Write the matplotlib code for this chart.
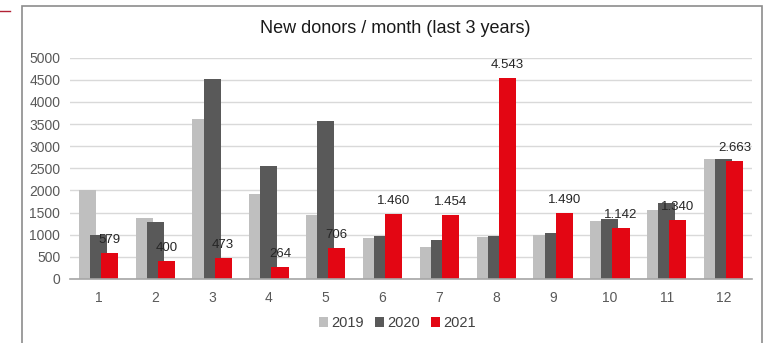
import matplotlib
matplotlib.use("Agg")
import matplotlib.pyplot as plt
import numpy as np
from matplotlib.patches import Rectangle
from matplotlib.lines import Line2D

months = ["1", "2", "3", "4", "5", "6", "7", "8", "9", "10", "11", "12"]
donors_2019 = [2000, 1370, 3620, 1920, 1440, 920, 730, 950, 1000, 1300, 1560, 2700]
donors_2020 = [1000, 1280, 4510, 2550, 3580, 980, 880, 970, 1050, 1350, 1720, 2700]
donors_2021 = [579, 400, 473, 264, 706, 1460, 1454, 4543, 1490, 1142, 1340, 2663]
series_names = ["2019", "2020", "2021"]
colors = ["#bfbfbf", "#595959", "#e30613"]

fig = plt.figure(figsize=(7.67, 3.43), dpi=100)
ax = fig.add_axes([0.0913, 0.1866, 0.8891, 0.6452])

# outer chart frame and accent mark
fig.patches.append(Rectangle((22 / 767, -0.05), (762 - 22) / 767, 1 - 6 / 343 + 0.05,
                             transform=fig.transFigure, fill=False,
                             edgecolor="#8c8c8c", linewidth=1.2))
fig.lines.append(Line2D([0, 10 / 767], [1 - 11 / 343] * 2, transform=fig.transFigure,
                        color="#b22234", linewidth=1.0))

x = np.arange(len(months))
width = 0.30
offset = 0.195
for i, (vals, col, name) in enumerate(zip([donors_2019, donors_2020, donors_2021],
                                           colors, series_names)):
    ax.bar(x + (i - 1) * offset, vals, width=width, color=col, label=name,
           zorder=2 + i, linewidth=0)

for xi, v in zip(x, donors_2021):
    txt = f"{v:,}".replace(",", ".")
    ax.text(xi + offset, v + 160, txt, ha="center", va="bottom", fontsize=9.5,
            color="#262626", family="Liberation Sans", zorder=10)

ax.set_xlim(-0.5, len(months) - 0.5)
ax.set_ylim(0, 5000)
ax.set_yticks(np.arange(0, 5001, 500))
ax.set_xticks(x)
ax.set_xticklabels(months)
ax.yaxis.grid(True, color="#d9d9d9", linewidth=1.0, zorder=0)
ax.set_axisbelow(True)
for s in ["top", "right", "left"]:
    ax.spines[s].set_visible(False)
ax.spines["bottom"].set_color("#a6a6a6")
ax.spines["bottom"].set_linewidth(1.2)
ax.spines["bottom"].set_zorder(20)
ax.tick_params(axis="both", length=0, labelsize=10, labelcolor="#595959", pad=7)
ax.tick_params(axis="x", pad=9)
for lab in ax.get_xticklabels() + ax.get_yticklabels():
    lab.set_family("Liberation Sans")

fig.text(0.515, 0.918, "New donors / month (last 3 years)", ha="center", va="center",
         fontsize=13, color="#1a1a1a", family=["Liberation Sans Narrow", "Liberation Sans"])

fig.legend(loc="center", bbox_to_anchor=(0.518, 0.058), ncol=3, frameon=False,
           prop={"family": "Liberation Sans", "size": 10.5}, handlelength=0.6,
           handleheight=0.6, handletextpad=0.2, columnspacing=0.8, labelcolor="#404040")

fig.savefig("out.png", dpi=100, facecolor="white")
